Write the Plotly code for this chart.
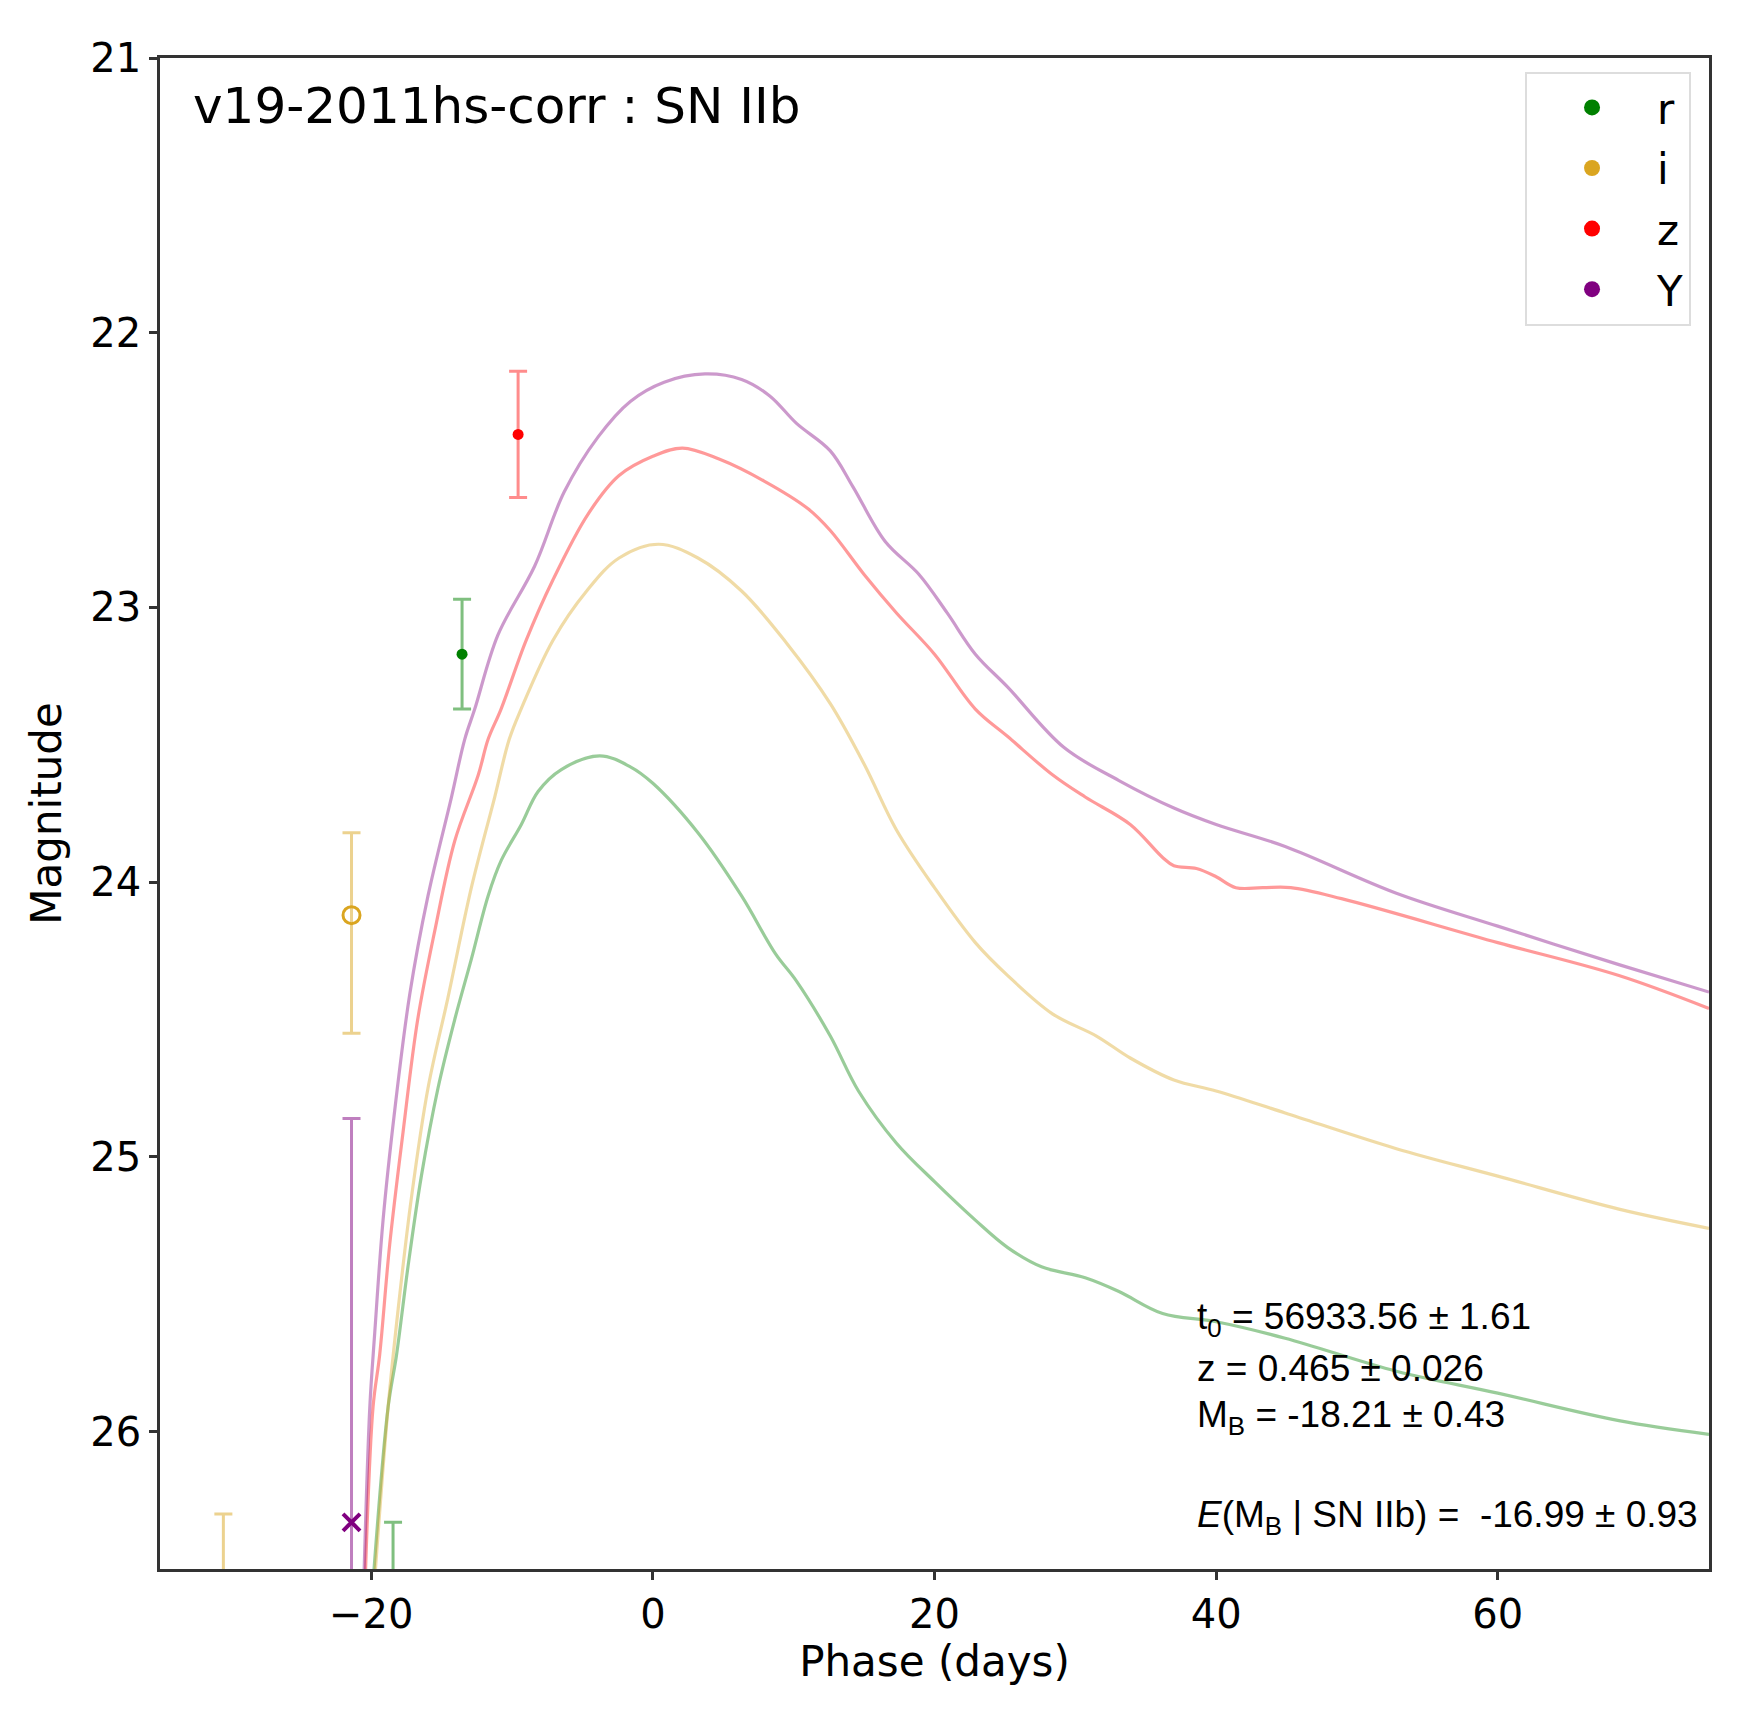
import plotly.graph_objects as go

# model light curves (phase in days, magnitude)
r_phase = [-19.8, -18.8, -18.2, -17.39, -16.44, -15.26, -14.07, -12.89, -11.7, -10.76, -9.34, -8.15,
           -6.5, -3.77, -1.6, 0.0, 3.2, 6.3, 8.7, 10.2, 12.6, 14.6, 17.3, 20.0, 22.9, 25.2, 27.6,
           30.7, 33.1, 36.2, 40.0, 44.9, 52.8, 60.0, 68.6, 75.0]
r_mag = [26.5, 25.91, 25.72, 25.4, 25.07, 24.75, 24.5, 24.28, 24.05, 23.92, 23.79, 23.67,
         23.59, 23.54, 23.58, 23.64, 23.82, 24.05, 24.26, 24.36, 24.56, 24.76, 24.95, 25.09, 25.23,
         25.33, 25.4, 25.44, 25.49, 25.57, 25.6, 25.66, 25.78, 25.86, 25.96, 26.01]

i_phase = [-19.7, -18.8, -18.1, -17.15, -15.97, -14.55, -12.89, -11.23, -10.2, -9.36, -7.1, -4.7,
           -2.4, 0.4, 3.2, 6.3, 9.5, 12.6, 15.0, 17.3, 20.0, 22.9, 25.2, 28.4, 31.5, 33.9, 37.0,
           40.0, 44.9, 52.8, 60.0, 68.6, 75.0]
i_mag = [26.5, 25.91, 25.56, 25.15, 24.75, 24.42, 24.02, 23.69, 23.48, 23.37, 23.12, 22.94,
         22.82, 22.77, 22.82, 22.94, 23.13, 23.35, 23.57, 23.81, 24.02, 24.22, 24.34, 24.48, 24.56,
         24.64, 24.72, 24.76, 24.84, 24.97, 25.07, 25.19, 25.26]

z_phase = [-20.4, -19.87, -19.4, -18.69, -17.74, -16.7, -15.5, -14.07, -12.4, -11.7, -10.78, -9.0,
           -7.1, -4.6, -2.4, 0.0, 2.1, 4.7, 7.9, 11.0, 12.6, 15.0, 17.3, 20.0, 22.9, 25.2, 28.4,
           30.7, 33.9, 36.2, 37.0, 38.6, 40.0, 41.4, 43.3, 45.3, 48.9, 60.0, 68.6, 75.0]
z_mag = [26.5, 25.91, 25.72, 25.32, 24.91, 24.5, 24.18, 23.85, 23.61, 23.48, 23.37, 23.12,
         22.9, 22.66, 22.52, 22.45, 22.42, 22.46, 22.54, 22.64, 22.72, 22.88, 23.02, 23.17, 23.37,
         23.47, 23.61, 23.69, 23.79, 23.91, 23.94, 23.95, 23.98, 24.02, 24.02, 24.02, 24.06, 24.22,
         24.34, 24.46]

Y_phase = [-20.5, -20.1, -19.75, -19.16, -18.33, -17.27, -15.97, -14.3, -13.36, -12.65, -11.0, -8.4,
           -6.3, -3.9, -1.6, 0.8, 3.7, 6.3, 8.3, 10.2, 12.6, 14.2, 16.5, 18.9, 20.9, 22.9, 25.2,
           29.2, 33.1, 37.0, 40.0, 44.9, 52.8, 60.0, 68.6, 75.0]
Y_mag = [26.5, 25.91, 25.64, 25.23, 24.83, 24.41, 24.05, 23.69, 23.48, 23.37, 23.1, 22.85,
         22.58, 22.38, 22.25, 22.18, 22.15, 22.17, 22.23, 22.33, 22.43, 22.56, 22.76, 22.88, 23.02,
         23.17, 23.29, 23.51, 23.63, 23.73, 23.79, 23.87, 24.04, 24.16, 24.3, 24.4]

# observed photometry
r_obs_phase = [-13.55, -18.45]
r_obs_mag = [23.17, 26.95]
r_obs_err = [0.2, 0.62]

i_obs_phase = [-21.4, -30.5]
i_obs_mag = [24.12, 26.9]
i_obs_err_up = [0.43, 0.6]
i_obs_err_down = [0.3, 0.6]

z_obs_phase = [-9.57]
z_obs_mag = [22.37]
z_obs_err = [0.23]

Y_obs_phase = [-21.4]
Y_obs_mag = [26.33]
Y_obs_err = [1.47]

bands = ['r', 'i', 'z', 'Y']
band_colors = {'r': '#008000', 'i': '#DAA520', 'z': '#FF0000', 'Y': '#800080'}
line_colors = {'r': 'rgba(0,128,0,0.4)', 'i': 'rgba(218,165,32,0.4)',
               'z': 'rgba(255,0,0,0.4)', 'Y': 'rgba(128,0,128,0.4)'}
err_colors = {'r': 'rgba(0,128,0,0.5)', 'i': 'rgba(218,165,32,0.5)',
              'z': 'rgba(255,0,0,0.45)', 'Y': 'rgba(128,0,128,0.5)'}

fig = go.Figure()

curves = {'r': (r_phase, r_mag), 'i': (i_phase, i_mag), 'z': (z_phase, z_mag), 'Y': (Y_phase, Y_mag)}
for b in bands:
    ph, mg = curves[b]
    fig.add_trace(go.Scatter(x=ph, y=mg, mode='lines', line=dict(color=line_colors[b], width=3.2,
                             shape='spline', smoothing=1.0), showlegend=False, hoverinfo='skip'))

# data points with error bars
fig.add_trace(go.Scatter(
    x=r_obs_phase, y=r_obs_mag, mode='markers',
    marker=dict(color=band_colors['r'], size=11),
    error_y=dict(type='data', array=r_obs_err, color=err_colors['r'], thickness=3, width=9),
    showlegend=False))
fig.add_trace(go.Scatter(
    x=i_obs_phase, y=i_obs_mag, mode='markers',
    marker=dict(color=band_colors['i'], size=17, symbol='circle-open', line=dict(width=3)),
    error_y=dict(type='data', array=i_obs_err_up, arrayminus=i_obs_err_down,
                 color=err_colors['i'], thickness=3, width=9),
    showlegend=False))
fig.add_trace(go.Scatter(
    x=z_obs_phase, y=z_obs_mag, mode='markers',
    marker=dict(color=band_colors['z'], size=11),
    error_y=dict(type='data', array=z_obs_err, color=err_colors['z'], thickness=3, width=9),
    showlegend=False))
fig.add_trace(go.Scatter(
    x=Y_obs_phase, y=Y_obs_mag, mode='markers',
    marker=dict(color=band_colors['Y'], size=17, symbol='x-thin', line=dict(color=band_colors['Y'], width=4)),
    error_y=dict(type='data', array=Y_obs_err, color=err_colors['Y'], thickness=3, width=9),
    showlegend=False))

# legend entries
for b in bands:
    fig.add_trace(go.Scatter(x=[None], y=[None], mode='markers', name=b, legendgroup=b,
                             marker=dict(color=band_colors[b], size=16)))

tick_font = dict(family='DejaVu Sans', size=40, color='black')
axis_style = dict(showline=True, linecolor='#333333', linewidth=2.5, mirror=True,
                  ticks='outside', ticklen=8, tickwidth=2.5, tickcolor='#333333',
                  showgrid=False, zeroline=False, tickfont=tick_font)

fig.update_xaxes(range=[-35, 75], tickvals=[-20, 0, 20, 40, 60],
                 ticktext=['\u221220', '0', '20', '40', '60'],
                 title=dict(text='Phase (days)', font=dict(family='DejaVu Sans', size=42, color='black'),
                            standoff=0),
                 **axis_style)
fig.update_yaxes(range=[26.5, 21], tickvals=[21, 22, 23, 24, 25, 26],
                 title=dict(text='Magnitude', font=dict(family='DejaVu Sans', size=42, color='black'),
                            standoff=16),
                 **axis_style)

fig.add_annotation(text='v19-2011hs-corr : SN IIb', xref='paper', yref='paper', x=0.02, y=0.968,
                   xanchor='left', yanchor='middle', showarrow=False,
                   font=dict(family='DejaVu Sans', size=50, color='black'))

info_font = dict(family='Liberation Sans, Arial', size=37, color='black')
info_lines = ['t<sub>0</sub> = 56933.56 \u00b1 1.61', 'z = 0.465 \u00b1 0.026',
              'M<sub>B</sub> = -18.21 \u00b1 0.43', '<i>E</i>(M<sub>B</sub> | SN IIb) =  -16.99 \u00b1 0.93']
info_y = [0.1655, 0.133, 0.1006, 0.0344]
for txt, yy in zip(info_lines, info_y):
    fig.add_annotation(text=txt, xref='paper', yref='paper', x=0.668, y=yy, xanchor='left',
                       yanchor='middle', showarrow=False, font=info_font)

fig.update_layout(
    width=1742, height=1709,
    margin=dict(l=152, r=41, t=50, b=148, autoexpand=False),
    plot_bgcolor='white', paper_bgcolor='white',
    legend=dict(x=0.9884, y=0.991, xanchor='right', yanchor='top',
                bordercolor='#dddddd', borderwidth=2, bgcolor='white',
                font=dict(family='DejaVu Sans', size=42, color='black'),
                itemwidth=120, tracegroupgap=3),
)

fig.write_html('out.html')
